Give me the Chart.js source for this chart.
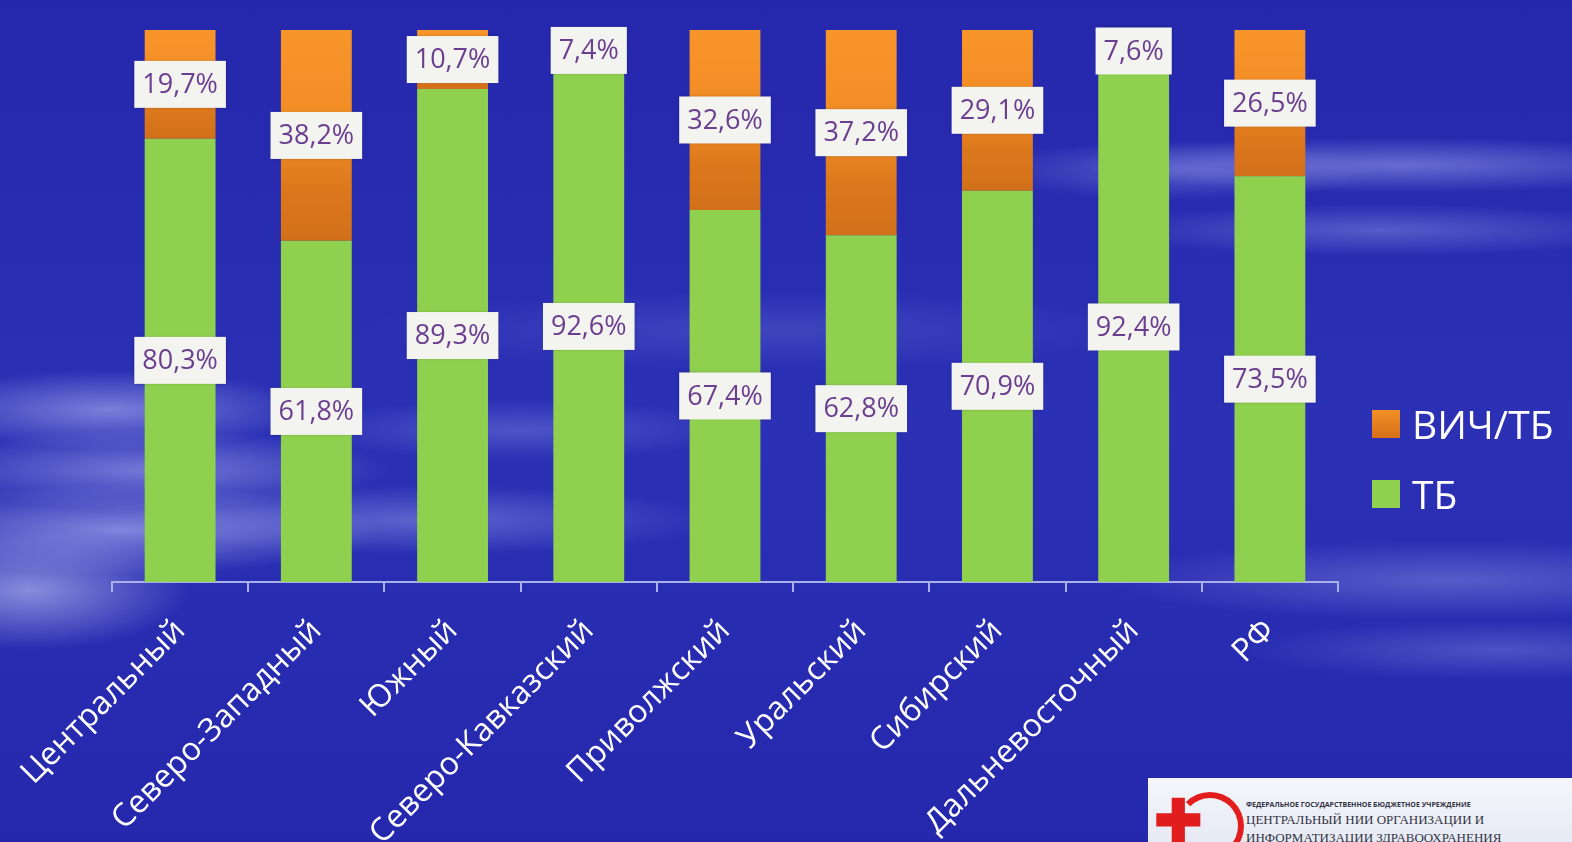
<!DOCTYPE html>
<html lang="ru">
<head>
  <meta charset="UTF-8">
  <title>ТБ и ВИЧ/ТБ по федеральным округам</title>
  <style>
    html, body { margin: 0; padding: 0; }
    body {
      width: 1572px; height: 842px; overflow: hidden; position: relative;
      font-family: 'Open Sans', 'Noto Sans', sans-serif;
      background:
        radial-gradient(ellipse 200px 40px at 110px 410px, rgba(200,205,255,0.5), rgba(200,205,255,0) 100%),
        radial-gradient(ellipse 240px 40px at 150px 470px, rgba(190,195,250,0.5), rgba(190,195,250,0) 100%),
        radial-gradient(ellipse 260px 45px at 120px 530px, rgba(200,205,255,0.55), rgba(200,205,255,0) 100%),
        radial-gradient(ellipse 160px 60px at 30px 590px, rgba(215,220,255,0.55), rgba(215,220,255,0) 100%),
        radial-gradient(ellipse 300px 35px at 420px 520px, rgba(170,180,245,0.4), rgba(170,180,245,0) 100%),
        radial-gradient(ellipse 220px 30px at 520px 430px, rgba(160,170,240,0.3), rgba(160,170,240,0) 100%),
        radial-gradient(ellipse 320px 28px at 1400px 165px, rgba(180,190,250,0.45), rgba(180,190,250,0) 100%),
        radial-gradient(ellipse 280px 26px at 1380px 230px, rgba(170,180,245,0.35), rgba(170,180,245,0) 100%),
        radial-gradient(ellipse 200px 30px at 1180px 170px, rgba(170,180,245,0.35), rgba(170,180,245,0) 100%),
        radial-gradient(ellipse 350px 40px at 1450px 580px, rgba(170,180,245,0.35), rgba(170,180,245,0) 100%),
        radial-gradient(ellipse 260px 30px at 1500px 650px, rgba(160,170,240,0.3), rgba(160,170,240,0) 100%),
        radial-gradient(ellipse 400px 40px at 760px 330px, rgba(150,160,235,0.2), rgba(150,160,235,0) 100%),
        linear-gradient(180deg, #2527ac 0%, #2b30b5 50%, #2528ad 100%);
    }
    #wrap { position: absolute; left: 0; top: 0; width: 1572px; height: 842px; }
    .legend { position: absolute; left: 1372px; top: 401px; color: #fff; font-size: 39px; line-height: 46px; }
    .legend div { display: flex; align-items: center; margin-bottom: 24px; }
    .legend span.box { width: 28px; height: 28px; margin-right: 12px; display: inline-block; }
    .logo {
      position: absolute; left: 1148px; top: 778px; width: 424px; height: 64px;
      background: linear-gradient(180deg, #f4f6fb, #e6eaf4); overflow: hidden;
    }
    .logo .mark { position: absolute; left: 6px; top: 12px; color: #e21d1d; font-size: 58px; font-weight: bold; line-height: 58px; }
    .logo .ring { position: absolute; left: 28px; top: 14px; width: 56px; height: 56px; border: 6px solid #e21d1d; border-radius: 50%; border-left-color: transparent; }
    .logo .t1 { position: absolute; left: 98px; top: 22px; font-size: 7px; font-weight: bold; color: #334; white-space: nowrap; }
    .logo .t2 { position: absolute; left: 98px; top: 34px; font-size: 13px; color: #334; font-family: 'Liberation Serif', serif; white-space: nowrap; }
    .logo .t3 { position: absolute; left: 98px; top: 52px; font-size: 13px; color: #334; font-family: 'Liberation Serif', serif; white-space: nowrap; }
  </style>
  <script src="https://cdn.jsdelivr.net/npm/chart.js"></script>
</head>
<body>
<div id="wrap"><canvas id="chart" width="1572" height="842"></canvas></div>

<div class="legend">
  <div><span class="box" style="background: linear-gradient(180deg,#f39026,#d6701a);"></span>ВИЧ/ТБ</div>
  <div><span class="box" style="background:#8fd14f;"></span>ТБ</div>
</div>

<div class="logo">
  <div class="ring"></div>
  <div class="mark">✚</div>
  <div class="t1">ФЕДЕРАЛЬНОЕ ГОСУДАРСТВЕННОЕ БЮДЖЕТНОЕ УЧРЕЖДЕНИЕ</div>
  <div class="t2">ЦЕНТРАЛЬНЫЙ НИИ ОРГАНИЗАЦИИ И</div>
  <div class="t3">ИНФОРМАТИЗАЦИИ ЗДРАВООХРАНЕНИЯ</div>
</div>

<script>
const regions = ['Центральный', 'Северо-Западный', 'Южный', 'Северо-Кавказский', 'Приволжский', 'Уральский', 'Сибирский', 'Дальневосточный', 'РФ'];
const tbValues = [80.3, 61.8, 89.3, 92.6, 67.4, 62.8, 70.9, 92.4, 73.5];
const hivTbValues = [19.7, 38.2, 10.7, 7.4, 32.6, 37.2, 29.1, 7.6, 26.5];

// оранжевый сегмент: светлый сверху, темнее к низу
function orangeFill(ctx) {
  const chart = ctx.chart;
  const y = chart.scales && chart.scales.y;
  if (!chart.chartArea || !y || ctx.dataIndex === undefined) return '#f39026';
  const top = y.getPixelForValue(100);
  const bottom = y.getPixelForValue(tbValues[ctx.dataIndex]);
  const g = chart.ctx.createLinearGradient(0, top, 0, bottom);
  g.addColorStop(0, '#f8952a');
  g.addColorStop(0.5, '#f08b24');
  g.addColorStop(0.75, '#dc781c');
  g.addColorStop(1, '#d2701a');
  return g;
}

// подписи значений в белых плашках
const boxLabels = {
  id: 'boxLabels',
  afterDatasetsDraw(chart) {
    const c = chart.ctx;
    c.save();
    c.font = '27px "Open Sans", "Noto Sans", sans-serif';
    c.textAlign = 'center';
    c.textBaseline = 'middle';
    chart.data.datasets.forEach((ds, di) => {
      chart.getDatasetMeta(di).data.forEach((el, i) => {
        const p = el.getProps(['x', 'y', 'base'], true);
        const cy = (p.y + p.base) / 2;
        const txt = ds.data[i].toFixed(1).replace('.', ',') + '%';
        const w = c.measureText(txt).width + 16;
        const h = 47;
        c.shadowColor = 'rgba(0,0,0,0.25)';
        c.shadowBlur = 3;
        c.fillStyle = '#f3f3ef';
        c.fillRect(p.x - w / 2, cy - h / 2, w, h);
        c.shadowColor = 'transparent';
        c.fillStyle = '#6b3e90';
        c.fillText(txt, p.x, cy + 1);
      });
    });
    c.restore();
  }
};

new Chart(document.getElementById('chart'), {
  type: 'bar',
  data: {
    labels: regions,
    datasets: [
      { label: 'ТБ', data: tbValues, backgroundColor: '#8fd14f' },
      { label: 'ВИЧ/ТБ', data: hivTbValues, backgroundColor: orangeFill }
    ]
  },
  options: {
    responsive: false,
    animation: false,
    devicePixelRatio: 1,
    layout: { padding: { left: 112, right: 234, top: 30, bottom: 0 } },
    datasets: { bar: { categoryPercentage: 1.0, barPercentage: 0.52 } },
    plugins: { legend: { display: false }, tooltip: { enabled: false } },
    scales: {
      x: {
        stacked: true,
        grid: { display: true, drawOnChartArea: false, drawTicks: true, tickLength: 10, color: '#a9b0ea', lineWidth: 2, offset: true },
        border: { display: true, color: '#a9b0ea', width: 2 },
        ticks: {
          color: '#ffffff', font: { size: 32, family: '"Open Sans", "Noto Sans", sans-serif' },
          minRotation: 45, maxRotation: 45, padding: 20, autoSkip: false
        },
        afterFit(scale) { scale.height = 260; }
      },
      y: { stacked: true, display: false, min: 0, max: 100 }
    }
  },
  plugins: [boxLabels]
});
</script>
</body>
</html>
